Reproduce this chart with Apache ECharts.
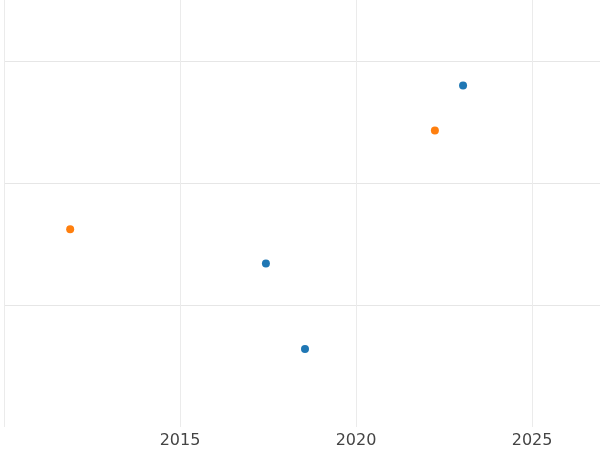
<!doctype html>
<html>
<head>
<meta charset="utf-8">
<script src="https://cdn.jsdelivr.net/npm/echarts@6/dist/echarts.min.js"></script>
<style>body{margin:0;background:#fff}#c{width:600px;height:450px}</style>
</head>
<body>
<div id="c"></div>
<script>
var blueX = [2023.04, 2017.44, 2018.55];
var blueY = [2.80, 1.34, 0.64];
var orangeX = [2011.88, 2022.24];
var orangeY = [1.62, 2.43];

function pairs(xs, ys) { return xs.map(function (x, i) { return [x, ys[i]]; }); }

var chart = echarts.init(document.getElementById('c'));
chart.setOption({
    animation: false,
    grid: { left: 4, right: 0, top: 0, bottom: 23 },
    xAxis: {
        type: 'value', min: 2010, max: 2026.93, interval: 5,
        axisLine: { show: false }, axisTick: { show: false },
        axisLabel: { showMinLabel: false, showMaxLabel: false, color: '#444', fontSize: 16, margin: 6,
            fontFamily: 'DejaVu Sans', formatter: function (v) { return String(v); } },
        splitLine: { lineStyle: { color: ['#ebebeb', '#ebebeb', '#ebebeb', '#ebebeb', 'transparent'] } }
    },
    yAxis: {
        type: 'value', min: 0, max: 3.5, interval: 1,
        axisLine: { show: false }, axisTick: { show: false }, axisLabel: { show: false },
        splitLine: { lineStyle: { color: ['transparent', '#e6e6e6', '#e6e6e6', '#e6e6e6', 'transparent'] } }
    },
    series: [
        { type: 'scatter', symbolSize: 8, itemStyle: { color: '#1f77b4', opacity: 1 }, data: pairs(blueX, blueY) },
        { type: 'scatter', symbolSize: 8, itemStyle: { color: '#ff7f0e', opacity: 1 }, data: pairs(orangeX, orangeY) }
    ]
});
</script>
</body>
</html>
